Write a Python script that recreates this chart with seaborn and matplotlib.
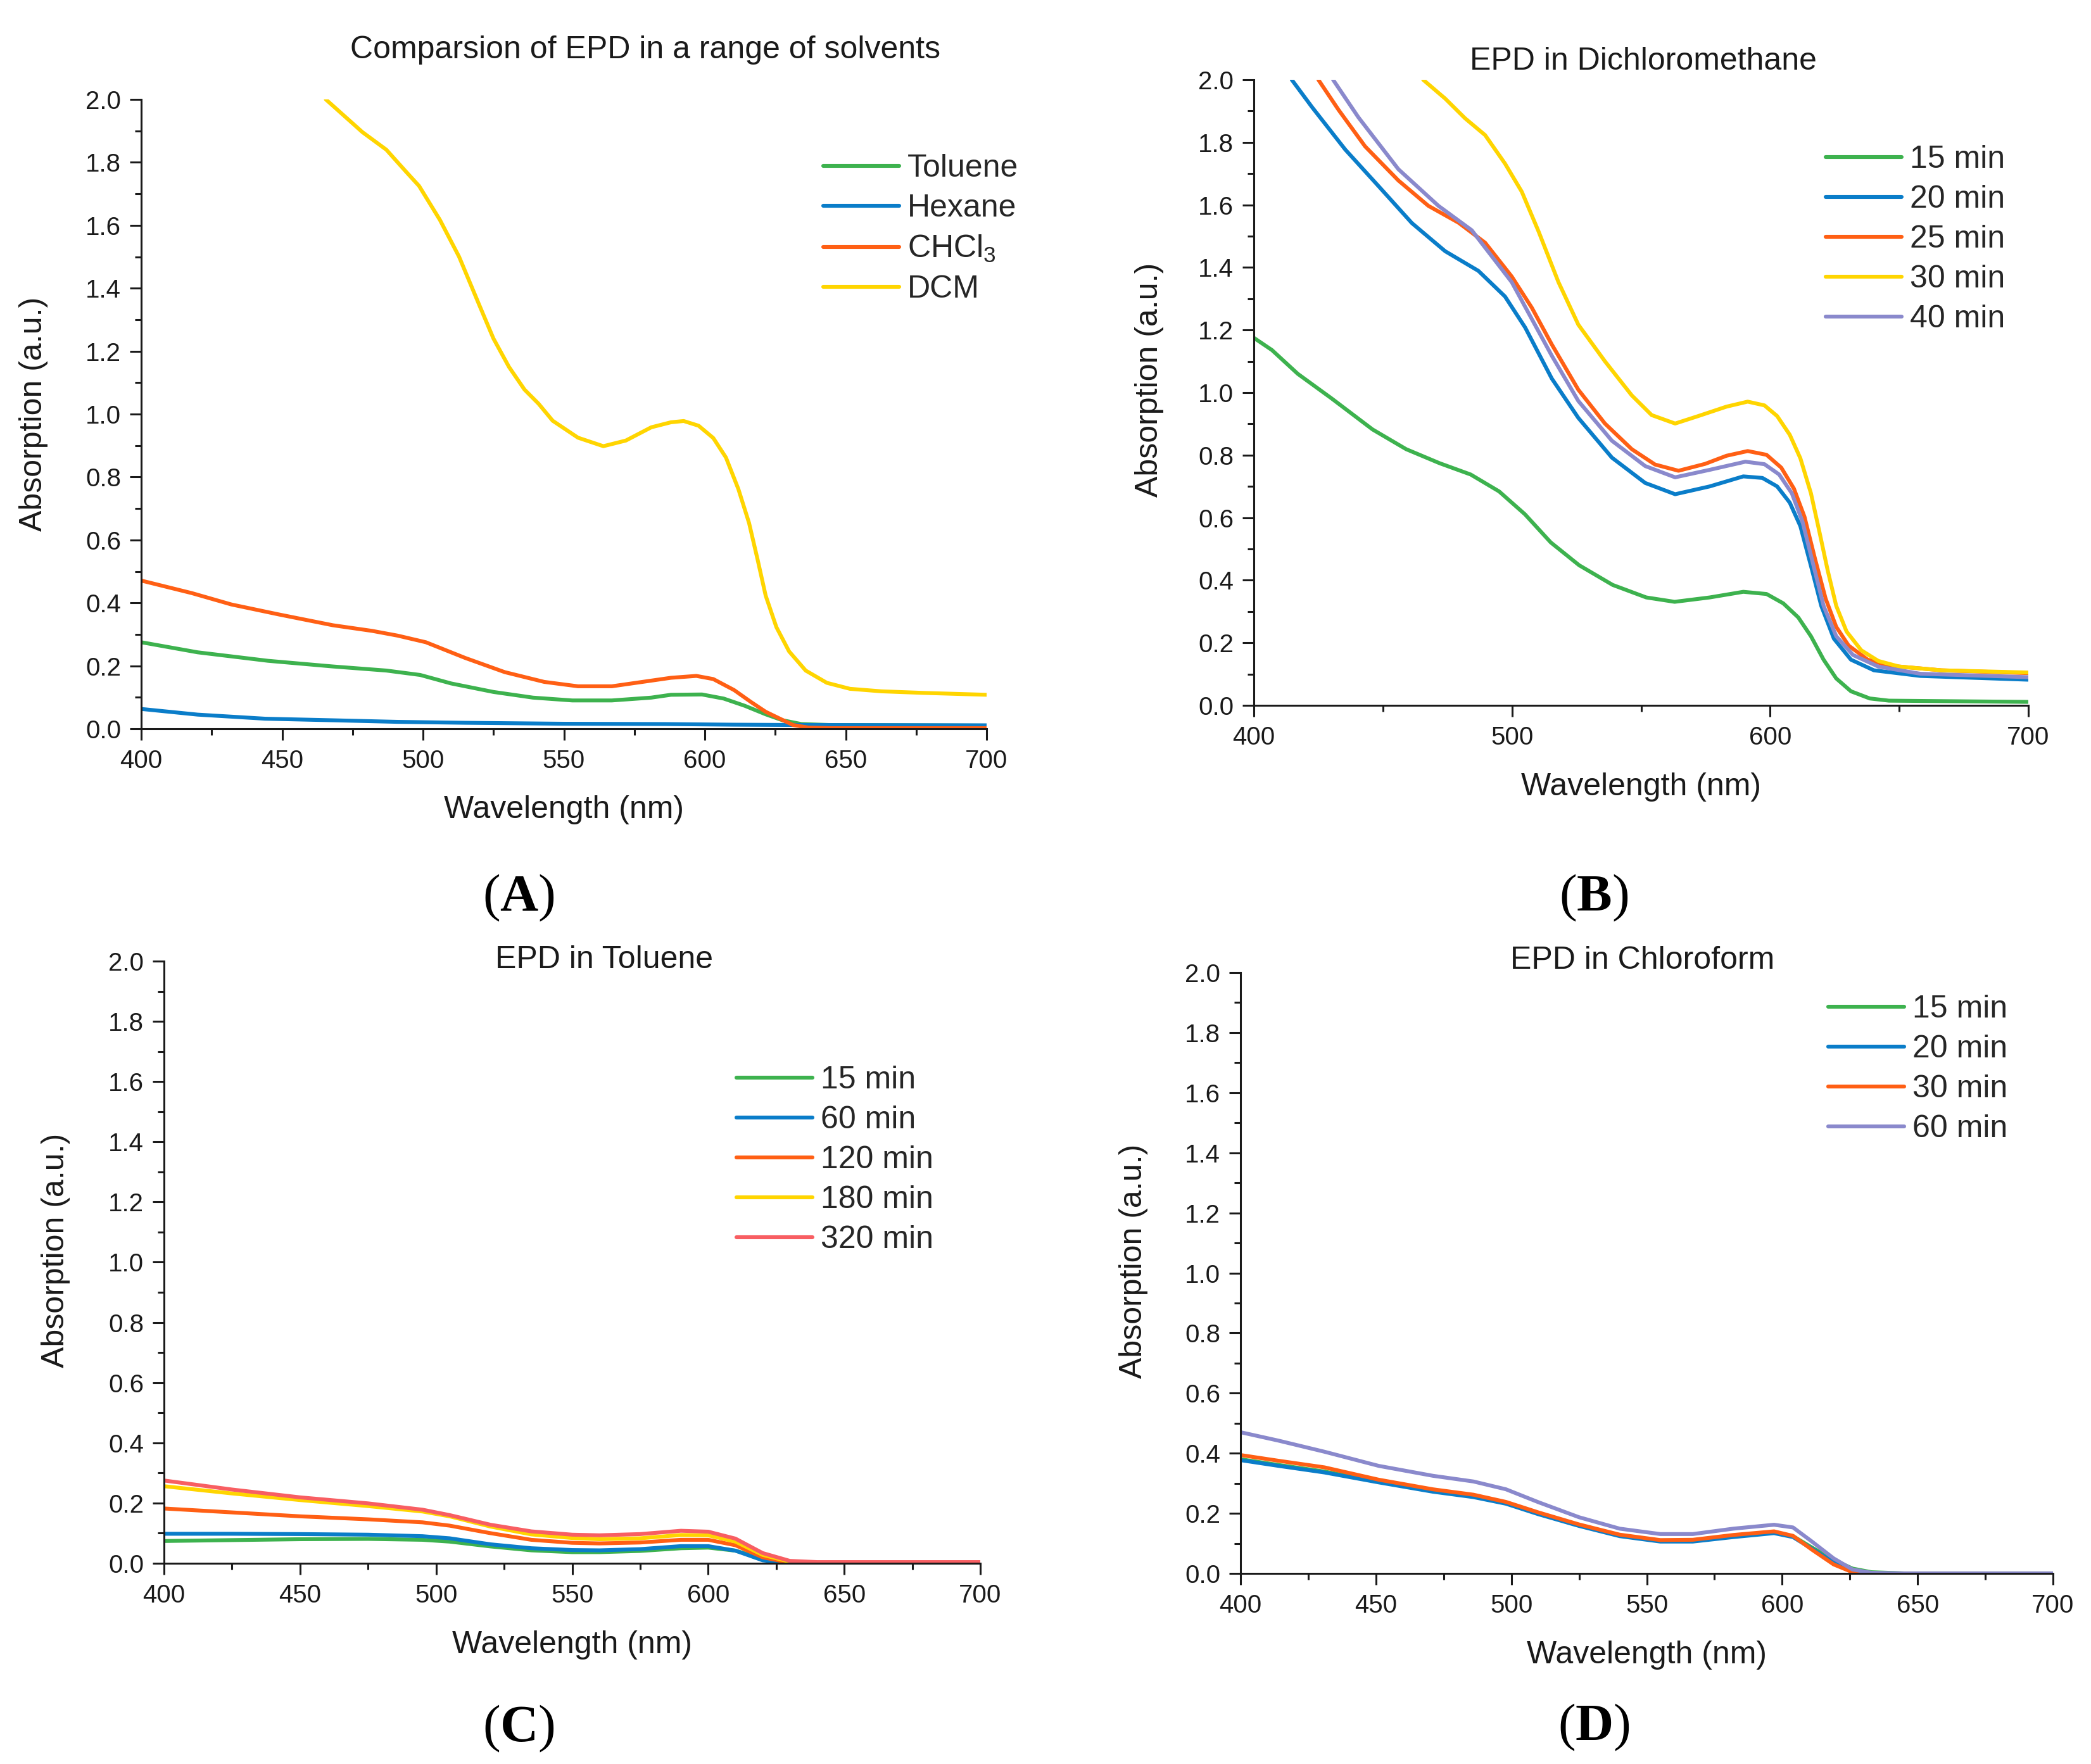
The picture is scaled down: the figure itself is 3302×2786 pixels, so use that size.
import matplotlib
matplotlib.use("Agg")
import matplotlib.pyplot as plt
from matplotlib.ticker import MultipleLocator
import seaborn as sns

# -------------------------
# Data
# -------------------------
# (A) EPD in a range of solvents
tol_wl = [400, 420, 445, 468, 487, 499, 510, 525, 539, 553, 567, 581, 588, 599, 606.7, 614.2, 621.6,
          627.6, 634.3, 644, 700]
tol_ab = [0.275, 0.243, 0.216, 0.198, 0.185, 0.171, 0.144, 0.117, 0.099, 0.090, 0.090, 0.099, 0.108,
          0.109, 0.096, 0.073, 0.046, 0.027, 0.015, 0.012, 0.010]

hex_wl = [400, 420, 444, 468, 491, 515, 550, 586, 610, 633, 700]
hex_ab = [0.063, 0.045, 0.032, 0.027, 0.022, 0.019, 0.016, 0.015, 0.013, 0.012, 0.011]

chcl_wl = [400, 418, 432, 449, 468, 482, 491, 501, 515, 529, 543, 555, 567, 581, 588, 597, 603,
           610.4, 616.4, 621.6, 626.9, 631.3, 636.6, 645, 700]
chcl_ab = [0.471, 0.431, 0.395, 0.363, 0.329, 0.311, 0.296, 0.275, 0.225, 0.180, 0.149, 0.135,
           0.135, 0.153, 0.162, 0.168, 0.158, 0.123, 0.085, 0.054, 0.031, 0.012, 0.004, 0.002, 0.002]

dcm_wl = [465.5, 478.5, 487, 494, 498.6, 506, 512.8, 519.9, 525, 530.5, 536, 541, 546, 555, 564,
          572, 581, 588, 592.5, 597.8, 603, 607.5, 611.9, 615.7, 618.7, 621.6, 625.4, 629.9, 635.8,
          643.3, 651.5, 662.7, 677.6, 700]
dcm_ab = [2.0, 1.896, 1.84, 1.77, 1.725, 1.617, 1.50, 1.348, 1.24, 1.15, 1.078, 1.033, 0.979, 0.925,
          0.898, 0.916, 0.958, 0.974, 0.978, 0.963, 0.924, 0.862, 0.762, 0.654, 0.539, 0.423, 0.323,
          0.246, 0.185, 0.146, 0.127, 0.119, 0.114, 0.108]

# (B) EPD in dichloromethane
b15_wl = [400, 407, 417, 430, 446, 459, 472, 484, 495, 505, 515, 526, 539, 552, 563, 576.6, 589.6,
          598.6, 605.1, 610.9, 615.8, 620.7, 625.6, 631.3, 638.6, 646, 700]
b15_ab = [1.175, 1.136, 1.06, 0.982, 0.882, 0.819, 0.774, 0.738, 0.684, 0.611, 0.521, 0.448, 0.385,
          0.345, 0.331, 0.345, 0.363, 0.356, 0.326, 0.281, 0.221, 0.146, 0.086, 0.045, 0.022, 0.015,
          0.011]

b20_wl = [414.7, 422.5, 435.4, 448.3, 461.2, 474.1, 487, 497.3, 505.1, 515.4, 525.7, 538.7, 551.6,
          563.2, 576.6, 589.6, 597, 602.7, 607.6, 611.7, 615.8, 619.8, 624.7, 631.3, 640.2, 658.2, 700]
b20_ab = [2.0, 1.913, 1.777, 1.66, 1.542, 1.452, 1.389, 1.307, 1.208, 1.045, 0.919, 0.792, 0.711,
          0.675, 0.700, 0.732, 0.727, 0.700, 0.648, 0.573, 0.446, 0.318, 0.213, 0.146, 0.112, 0.094,
          0.082]

b25_wl = [425, 432.8, 443.1, 456, 467.6, 479.3, 489.6, 499.9, 507.7, 515.4, 525.7, 536, 546.4, 555.4,
          564.5, 574.8, 583.1, 591.3, 598.6, 604.3, 609.2, 613.3, 617.4, 621.5, 625.6, 630.4, 637.8,
          646, 666.4, 700]
b25_ab = [2.0, 1.904, 1.787, 1.678, 1.597, 1.543, 1.479, 1.371, 1.271, 1.154, 1.009, 0.901, 0.819,
          0.77, 0.75, 0.772, 0.798, 0.813, 0.801, 0.76, 0.693, 0.603, 0.468, 0.341, 0.251, 0.191,
          0.146, 0.127, 0.112, 0.103]

b30_wl = [465.6, 474.1, 481.8, 489.6, 497.3, 503.8, 510.3, 518, 525.7, 536, 546.4, 554.1, 563.2,
          572.2, 583.1, 591.3, 597.8, 602.7, 607.6, 611.7, 615.8, 619, 622.3, 625.6, 629.6, 635.3,
          641.9, 650, 666.4, 700]
b30_ab = [2.0, 1.94, 1.877, 1.823, 1.732, 1.642, 1.515, 1.353, 1.217, 1.1, 0.991, 0.928, 0.901,
          0.925, 0.955, 0.971, 0.959, 0.925, 0.865, 0.79, 0.678, 0.558, 0.431, 0.318, 0.236, 0.176,
          0.142, 0.124, 0.112, 0.105]

b40_wl = [430.7, 440.5, 456, 471.5, 484.4, 499.9, 515.4, 525.7, 538.7, 551.6, 563.2, 576.6, 590.4,
          597.8, 603.5, 608.4, 612.5, 616.6, 620.7, 625.6, 632.1, 641.9, 658.2, 700]
b40_ab = [2.0, 1.88, 1.714, 1.597, 1.519, 1.353, 1.118, 0.973, 0.846, 0.765, 0.729, 0.753, 0.779,
          0.771, 0.738, 0.678, 0.588, 0.453, 0.318, 0.221, 0.161, 0.124, 0.101, 0.09]

# (C) EPD in toluene
c_wl = [400, 425, 450, 475, 495, 505, 520, 535, 550, 560, 575, 590, 600, 610, 620, 630, 640, 700]
c15 = [0.074, 0.077, 0.08, 0.081, 0.078, 0.072, 0.056, 0.043, 0.037, 0.037, 0.041, 0.05, 0.052,
       0.042, 0.015, 0.002, 0.002, 0.002]
c60 = [0.098, 0.098, 0.097, 0.095, 0.09, 0.083, 0.063, 0.05, 0.044, 0.043, 0.047, 0.057, 0.057,
       0.042, 0.01, 0.0, 0.0, 0.0]
c120 = [0.182, 0.169, 0.156, 0.146, 0.136, 0.125, 0.1, 0.078, 0.068, 0.066, 0.069, 0.078, 0.078,
        0.06, 0.02, 0.002, 0.002, 0.002]
c180 = [0.256, 0.232, 0.21, 0.19, 0.172, 0.156, 0.122, 0.096, 0.084, 0.080, 0.083, 0.094, 0.093,
        0.072, 0.028, 0.005, 0.002, 0.002]
c320 = [0.275, 0.245, 0.219, 0.199, 0.178, 0.160, 0.128, 0.106, 0.095, 0.093, 0.097, 0.108, 0.105,
        0.082, 0.034, 0.008, 0.004, 0.004]

# (D) EPD in chloroform
d_wl = [400, 414, 431, 451, 471, 486, 498, 510, 525, 540, 555, 567, 582, 597, 604, 611, 619, 626,
        633, 645, 700]
d15 = [0.380, 0.361, 0.339, 0.305, 0.274, 0.256, 0.234, 0.199, 0.160, 0.126, 0.108, 0.108, 0.123,
       0.136, 0.124, 0.086, 0.045, 0.016, 0.004, 0.0, 0.0]
d20 = [0.377, 0.358, 0.336, 0.303, 0.272, 0.254, 0.232, 0.197, 0.158, 0.124, 0.106, 0.106, 0.121,
       0.134, 0.121, 0.082, 0.036, 0.008, 0.0, 0.0, 0.0]
d30 = [0.394, 0.375, 0.353, 0.312, 0.28, 0.262, 0.238, 0.203, 0.163, 0.129, 0.111, 0.112, 0.128,
       0.14, 0.125, 0.079, 0.03, 0.004, 0.0, 0.0, 0.0]
d60 = [0.47, 0.442, 0.405, 0.358, 0.325, 0.306, 0.28, 0.237, 0.187, 0.149, 0.131, 0.131, 0.149,
       0.162, 0.153, 0.106, 0.05, 0.013, 0.002, 0.0, 0.0]

# -------------------------
# Style
# -------------------------
GREEN = "#3DB24E"
BLUE = "#0A7DC9"
ORANGE = "#FF5F14"
YELLOW = "#FFD500"
PURPLE = "#8A89CC"
PINK = "#F85E62"
INK = "#1a1a1a"

sns.set_theme(style="ticks")
plt.rcParams["font.family"] = ["Liberation Sans", "DejaVu Sans"]
plt.rcParams["mathtext.fontset"] = "custom"
plt.rcParams["mathtext.rm"] = "Liberation Sans"
plt.rcParams["mathtext.bf"] = "Liberation Serif:bold"

W, H, DPI = 3302, 2786, 200
fig = plt.figure(figsize=(W / DPI, H / DPI), dpi=DPI)
fig.patch.set_facecolor("white")


def px_axes(left, right, bottom, top):
    # pixel box -> figure fraction axes
    return fig.add_axes([left / W, 1 - bottom / H, (right - left) / W, (bottom - top) / H])


def style_axes(ax, xmajor, xminor):
    ax.set_xlim(400, 700)
    ax.set_ylim(0, 2.0)
    ax.xaxis.set_major_locator(MultipleLocator(xmajor))
    ax.xaxis.set_minor_locator(MultipleLocator(xminor))
    ax.yaxis.set_major_locator(MultipleLocator(0.2))
    ax.yaxis.set_minor_locator(MultipleLocator(0.1))
    ax.yaxis.set_major_formatter(plt.FuncFormatter(lambda v, p: f"{v:.1f}"))
    sns.despine(ax=ax)
    for s in ("left", "bottom"):
        ax.spines[s].set_linewidth(1.1)
        ax.spines[s].set_color(INK)
    ax.tick_params(which="major", direction="out", length=6.5, width=1.1, color=INK,
                   labelsize=14.5, labelcolor=INK, pad=5)
    ax.tick_params(which="minor", direction="out", length=3.5, width=1.1, color=INK)
    ax.set_facecolor("white")
    ax.grid(False)


def labels(ax, title, tx, ty, xly, ylx, yly):
    ax.set_xlabel("Wavelength (nm)", fontsize=18, color=INK, va="center")
    ax.xaxis.set_label_coords(0.5, xly)
    ax.set_ylabel("Absorption (a.u.)", fontsize=18, color=INK, va="center")
    ax.yaxis.set_label_coords(ylx, yly)
    ax.text(tx, ty, title, transform=ax.transAxes, ha="center", va="center",
            fontsize=18, color=INK)


def legend(ax, x_px, y_px):
    ax.legend(loc="upper left", bbox_to_anchor=(x_px / W, 1 - (y_px - 17) / H),
              bbox_transform=fig.transFigure, frameon=False, fontsize=18,
              handlelength=2.4, handletextpad=0.26, labelspacing=0.34,
              borderpad=0, borderaxespad=0)


def line(ax, x, y, color, label):
    sns.lineplot(x=x, y=y, color=color, linewidth=2.2, label=label, ax=ax,
                 estimator=None, sort=False)


# -------------------------
# (A)
# -------------------------
ax = px_axes(223, 1558, 1151, 157)
line(ax, tol_wl, tol_ab, GREEN, "Toluene")
line(ax, hex_wl, hex_ab, BLUE, "Hexane")
line(ax, chcl_wl, chcl_ab, ORANGE, r"CHCl$_\mathrm{3}$")
line(ax, dcm_wl, dcm_ab, YELLOW, "DCM")
style_axes(ax, 50, 25)
labels(ax, "Comparsion of EPD in a range of solvents", 0.596, 1.078, -0.129, -0.127, 0.5)
legend(ax, 1300, 260)

# -------------------------
# (B)
# -------------------------
ax = px_axes(1980, 3203, 1114, 126)
line(ax, b15_wl, b15_ab, GREEN, "15 min")
line(ax, b20_wl, b20_ab, BLUE, "20 min")
line(ax, b25_wl, b25_ab, ORANGE, "25 min")
line(ax, b30_wl, b30_ab, YELLOW, "30 min")
line(ax, b40_wl, b40_ab, PURPLE, "40 min")
style_axes(ax, 100, 50)
labels(ax, "EPD in Dichloromethane", 0.503, 1.029, -0.131, -0.135, 0.52)
legend(ax, 2883, 246)

# -------------------------
# (C)
# -------------------------
ax = px_axes(259, 1548, 2469, 1518)
line(ax, c_wl, c15, GREEN, "15 min")
line(ax, c_wl, c60, BLUE, "60 min")
line(ax, c_wl, c120, ORANGE, "120 min")
line(ax, c_wl, c180, YELLOW, "180 min")
line(ax, c_wl, c320, PINK, "320 min")
style_axes(ax, 50, 25)
labels(ax, "EPD in Toluene", 0.539, 1.002, -0.136, -0.133, 0.52)
legend(ax, 1163, 1700)

# -------------------------
# (D)
# -------------------------
ax = px_axes(1959, 3242, 2485, 1536)
line(ax, d_wl, d15, GREEN, "15 min")
line(ax, d_wl, d20, BLUE, "20 min")
line(ax, d_wl, d30, ORANGE, "30 min")
line(ax, d_wl, d60, PURPLE, "60 min")
style_axes(ax, 50, 25)
labels(ax, "EPD in Chloroform", 0.495, 1.020, -0.136, -0.132, 0.52)
legend(ax, 2887, 1588)

# -------------------------
# Panel letters
# -------------------------
for txt, x, y in [("A", 819, 1418), ("B", 2517, 1418), ("C", 819, 2730), ("D", 2517, 2728)]:
    fig.text(x / W, 1 - y / H, "($\\mathbf{" + txt + "}$)", ha="center", va="center",
             fontsize=30, family="Liberation Serif", color="black")

fig.savefig("out.png", dpi=DPI, facecolor="white")
